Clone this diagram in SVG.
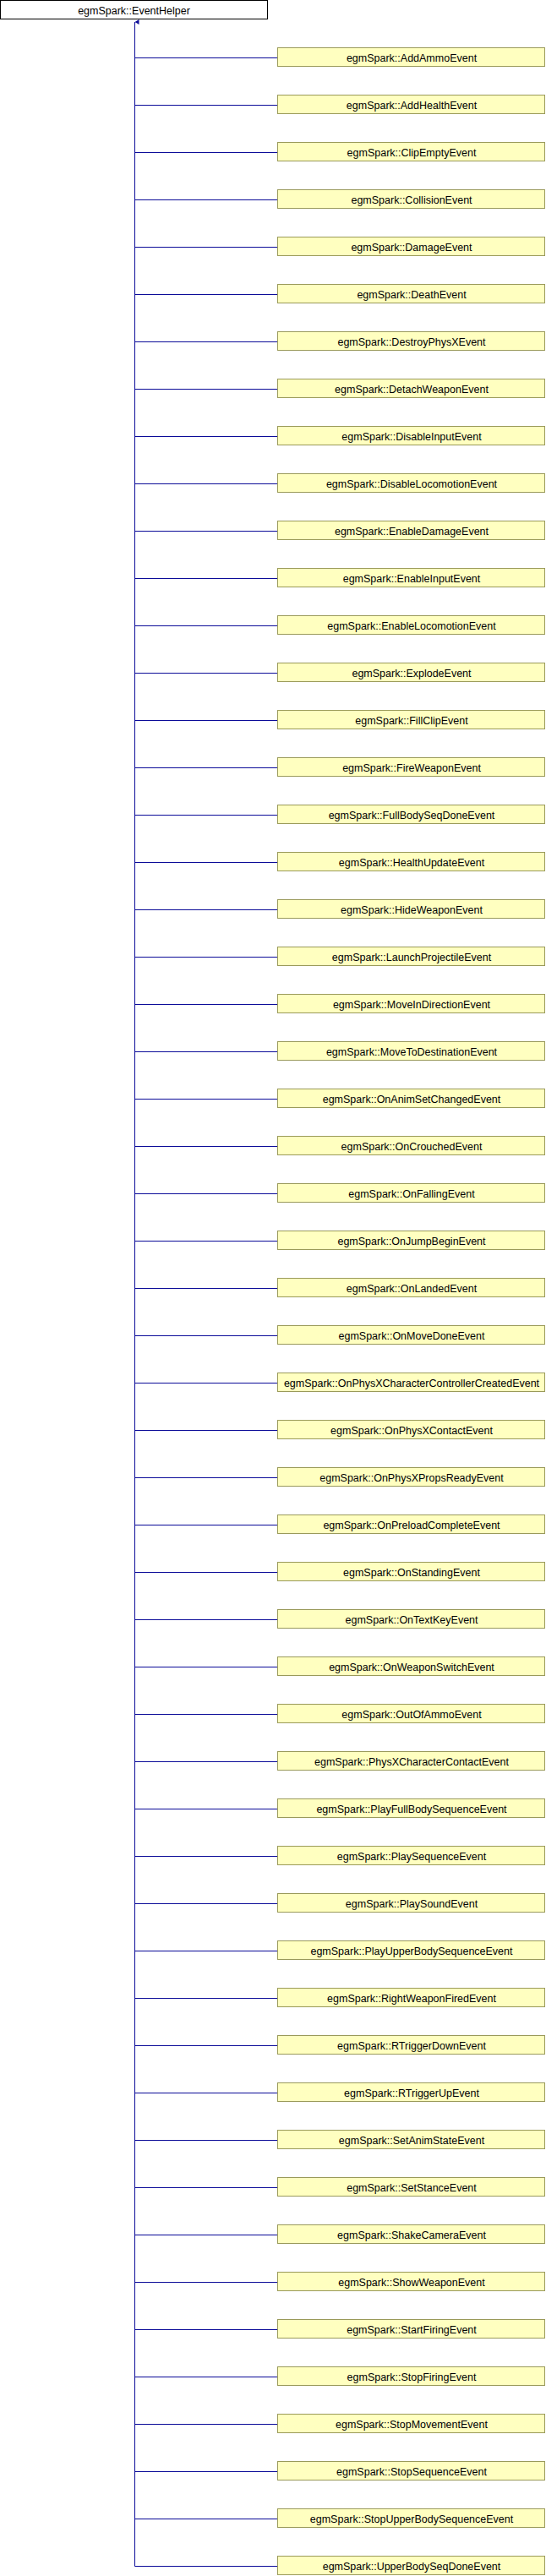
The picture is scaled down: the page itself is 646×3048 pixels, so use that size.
<svg xmlns="http://www.w3.org/2000/svg" width="646" height="3048" viewBox="0 0 646 3048">
<style>
.bg{fill:#ffffff}
.root rect{fill:#ffffff;stroke:#000000;stroke-width:1}
.n rect{fill:#ffffc0;stroke:#9a9a5a;stroke-width:1}
text{font-family:"Liberation Sans",Arial,sans-serif;font-size:12.5px;fill:#000000;text-anchor:middle}
.e{stroke:#0b0b98;stroke-width:1;fill:none}
</style>
<defs>
<marker id="ah" markerWidth="6" markerHeight="6" refX="3" refY="0" orient="auto" markerUnits="userSpaceOnUse" viewBox="0 0 6 6">
<path d="M0,5 L3,0 L6,5 Z" fill="#0b0b98"/>
</marker>
</defs>
<rect class="bg" x="0" y="0" width="646" height="3048"/>
<g id="connectors">
<path class="e" d="M159.5,3036.5 V26" marker-end="url(#ah)"/>
<path class="e" d="M159.5,68.5 H328 M159.5,124.5 H328 M159.5,180.5 H328 M159.5,236.5 H328 M159.5,292.5 H328 M159.5,348.5 H328 M159.5,404.5 H328 M159.5,460.5 H328 M159.5,516.5 H328 M159.5,572.5 H328 M159.5,628.5 H328 M159.5,684.5 H328 M159.5,740.5 H328 M159.5,796.5 H328 M159.5,852.5 H328 M159.5,908.5 H328 M159.5,964.5 H328 M159.5,1020.5 H328 M159.5,1076.5 H328 M159.5,1132.5 H328 M159.5,1188.5 H328 M159.5,1244.5 H328 M159.5,1300.5 H328 M159.5,1356.5 H328 M159.5,1412.5 H328 M159.5,1468.5 H328 M159.5,1524.5 H328 M159.5,1580.5 H328 M159.5,1636.5 H328 M159.5,1692.5 H328 M159.5,1748.5 H328 M159.5,1804.5 H328 M159.5,1860.5 H328 M159.5,1916.5 H328 M159.5,1972.5 H328 M159.5,2028.5 H328 M159.5,2084.5 H328 M159.5,2140.5 H328 M159.5,2196.5 H328 M159.5,2252.5 H328 M159.5,2308.5 H328 M159.5,2364.5 H328 M159.5,2420.5 H328 M159.5,2476.5 H328 M159.5,2532.5 H328 M159.5,2588.5 H328 M159.5,2644.5 H328 M159.5,2700.5 H328 M159.5,2756.5 H328 M159.5,2812.5 H328 M159.5,2868.5 H328 M159.5,2924.5 H328 M159.5,2980.5 H328 M159.5,3036.5 H328"/>
</g>
<g id="root" class="root"><rect x="0.5" y="0.5" width="316" height="22"/><text x="158.5" y="16.5">egmSpark::EventHelper</text></g>
<g id="n1" class="n"><rect x="328.5" y="56.5" width="316" height="22"/><text x="487" y="72.5">egmSpark::AddAmmoEvent</text></g>
<g id="n2" class="n"><rect x="328.5" y="112.5" width="316" height="22"/><text x="487" y="128.5">egmSpark::AddHealthEvent</text></g>
<g id="n3" class="n"><rect x="328.5" y="168.5" width="316" height="22"/><text x="487" y="184.5">egmSpark::ClipEmptyEvent</text></g>
<g id="n4" class="n"><rect x="328.5" y="224.5" width="316" height="22"/><text x="487" y="240.5">egmSpark::CollisionEvent</text></g>
<g id="n5" class="n"><rect x="328.5" y="280.5" width="316" height="22"/><text x="487" y="296.5">egmSpark::DamageEvent</text></g>
<g id="n6" class="n"><rect x="328.5" y="336.5" width="316" height="22"/><text x="487" y="352.5">egmSpark::DeathEvent</text></g>
<g id="n7" class="n"><rect x="328.5" y="392.5" width="316" height="22"/><text x="487" y="408.5">egmSpark::DestroyPhysXEvent</text></g>
<g id="n8" class="n"><rect x="328.5" y="448.5" width="316" height="22"/><text x="487" y="464.5">egmSpark::DetachWeaponEvent</text></g>
<g id="n9" class="n"><rect x="328.5" y="504.5" width="316" height="22"/><text x="487" y="520.5">egmSpark::DisableInputEvent</text></g>
<g id="n10" class="n"><rect x="328.5" y="560.5" width="316" height="22"/><text x="487" y="576.5">egmSpark::DisableLocomotionEvent</text></g>
<g id="n11" class="n"><rect x="328.5" y="616.5" width="316" height="22"/><text x="487" y="632.5">egmSpark::EnableDamageEvent</text></g>
<g id="n12" class="n"><rect x="328.5" y="672.5" width="316" height="22"/><text x="487" y="688.5">egmSpark::EnableInputEvent</text></g>
<g id="n13" class="n"><rect x="328.5" y="728.5" width="316" height="22"/><text x="487" y="744.5">egmSpark::EnableLocomotionEvent</text></g>
<g id="n14" class="n"><rect x="328.5" y="784.5" width="316" height="22"/><text x="487" y="800.5">egmSpark::ExplodeEvent</text></g>
<g id="n15" class="n"><rect x="328.5" y="840.5" width="316" height="22"/><text x="487" y="856.5">egmSpark::FillClipEvent</text></g>
<g id="n16" class="n"><rect x="328.5" y="896.5" width="316" height="22"/><text x="487" y="912.5">egmSpark::FireWeaponEvent</text></g>
<g id="n17" class="n"><rect x="328.5" y="952.5" width="316" height="22"/><text x="487" y="968.5">egmSpark::FullBodySeqDoneEvent</text></g>
<g id="n18" class="n"><rect x="328.5" y="1008.5" width="316" height="22"/><text x="487" y="1024.5">egmSpark::HealthUpdateEvent</text></g>
<g id="n19" class="n"><rect x="328.5" y="1064.5" width="316" height="22"/><text x="487" y="1080.5">egmSpark::HideWeaponEvent</text></g>
<g id="n20" class="n"><rect x="328.5" y="1120.5" width="316" height="22"/><text x="487" y="1136.5">egmSpark::LaunchProjectileEvent</text></g>
<g id="n21" class="n"><rect x="328.5" y="1176.5" width="316" height="22"/><text x="487" y="1192.5">egmSpark::MoveInDirectionEvent</text></g>
<g id="n22" class="n"><rect x="328.5" y="1232.5" width="316" height="22"/><text x="487" y="1248.5">egmSpark::MoveToDestinationEvent</text></g>
<g id="n23" class="n"><rect x="328.5" y="1288.5" width="316" height="22"/><text x="487" y="1304.5">egmSpark::OnAnimSetChangedEvent</text></g>
<g id="n24" class="n"><rect x="328.5" y="1344.5" width="316" height="22"/><text x="487" y="1360.5">egmSpark::OnCrouchedEvent</text></g>
<g id="n25" class="n"><rect x="328.5" y="1400.5" width="316" height="22"/><text x="487" y="1416.5">egmSpark::OnFallingEvent</text></g>
<g id="n26" class="n"><rect x="328.5" y="1456.5" width="316" height="22"/><text x="487" y="1472.5">egmSpark::OnJumpBeginEvent</text></g>
<g id="n27" class="n"><rect x="328.5" y="1512.5" width="316" height="22"/><text x="487" y="1528.5">egmSpark::OnLandedEvent</text></g>
<g id="n28" class="n"><rect x="328.5" y="1568.5" width="316" height="22"/><text x="487" y="1584.5">egmSpark::OnMoveDoneEvent</text></g>
<g id="n29" class="n"><rect x="328.5" y="1624.5" width="316" height="22"/><text x="487" y="1640.5">egmSpark::OnPhysXCharacterControllerCreatedEvent</text></g>
<g id="n30" class="n"><rect x="328.5" y="1680.5" width="316" height="22"/><text x="487" y="1696.5">egmSpark::OnPhysXContactEvent</text></g>
<g id="n31" class="n"><rect x="328.5" y="1736.5" width="316" height="22"/><text x="487" y="1752.5">egmSpark::OnPhysXPropsReadyEvent</text></g>
<g id="n32" class="n"><rect x="328.5" y="1792.5" width="316" height="22"/><text x="487" y="1808.5">egmSpark::OnPreloadCompleteEvent</text></g>
<g id="n33" class="n"><rect x="328.5" y="1848.5" width="316" height="22"/><text x="487" y="1864.5">egmSpark::OnStandingEvent</text></g>
<g id="n34" class="n"><rect x="328.5" y="1904.5" width="316" height="22"/><text x="487" y="1920.5">egmSpark::OnTextKeyEvent</text></g>
<g id="n35" class="n"><rect x="328.5" y="1960.5" width="316" height="22"/><text x="487" y="1976.5">egmSpark::OnWeaponSwitchEvent</text></g>
<g id="n36" class="n"><rect x="328.5" y="2016.5" width="316" height="22"/><text x="487" y="2032.5">egmSpark::OutOfAmmoEvent</text></g>
<g id="n37" class="n"><rect x="328.5" y="2072.5" width="316" height="22"/><text x="487" y="2088.5">egmSpark::PhysXCharacterContactEvent</text></g>
<g id="n38" class="n"><rect x="328.5" y="2128.5" width="316" height="22"/><text x="487" y="2144.5">egmSpark::PlayFullBodySequenceEvent</text></g>
<g id="n39" class="n"><rect x="328.5" y="2184.5" width="316" height="22"/><text x="487" y="2200.5">egmSpark::PlaySequenceEvent</text></g>
<g id="n40" class="n"><rect x="328.5" y="2240.5" width="316" height="22"/><text x="487" y="2256.5">egmSpark::PlaySoundEvent</text></g>
<g id="n41" class="n"><rect x="328.5" y="2296.5" width="316" height="22"/><text x="487" y="2312.5">egmSpark::PlayUpperBodySequenceEvent</text></g>
<g id="n42" class="n"><rect x="328.5" y="2352.5" width="316" height="22"/><text x="487" y="2368.5">egmSpark::RightWeaponFiredEvent</text></g>
<g id="n43" class="n"><rect x="328.5" y="2408.5" width="316" height="22"/><text x="487" y="2424.5">egmSpark::RTriggerDownEvent</text></g>
<g id="n44" class="n"><rect x="328.5" y="2464.5" width="316" height="22"/><text x="487" y="2480.5">egmSpark::RTriggerUpEvent</text></g>
<g id="n45" class="n"><rect x="328.5" y="2520.5" width="316" height="22"/><text x="487" y="2536.5">egmSpark::SetAnimStateEvent</text></g>
<g id="n46" class="n"><rect x="328.5" y="2576.5" width="316" height="22"/><text x="487" y="2592.5">egmSpark::SetStanceEvent</text></g>
<g id="n47" class="n"><rect x="328.5" y="2632.5" width="316" height="22"/><text x="487" y="2648.5">egmSpark::ShakeCameraEvent</text></g>
<g id="n48" class="n"><rect x="328.5" y="2688.5" width="316" height="22"/><text x="487" y="2704.5">egmSpark::ShowWeaponEvent</text></g>
<g id="n49" class="n"><rect x="328.5" y="2744.5" width="316" height="22"/><text x="487" y="2760.5">egmSpark::StartFiringEvent</text></g>
<g id="n50" class="n"><rect x="328.5" y="2800.5" width="316" height="22"/><text x="487" y="2816.5">egmSpark::StopFiringEvent</text></g>
<g id="n51" class="n"><rect x="328.5" y="2856.5" width="316" height="22"/><text x="487" y="2872.5">egmSpark::StopMovementEvent</text></g>
<g id="n52" class="n"><rect x="328.5" y="2912.5" width="316" height="22"/><text x="487" y="2928.5">egmSpark::StopSequenceEvent</text></g>
<g id="n53" class="n"><rect x="328.5" y="2968.5" width="316" height="22"/><text x="487" y="2984.5">egmSpark::StopUpperBodySequenceEvent</text></g>
<g id="n54" class="n"><rect x="328.5" y="3024.5" width="316" height="22"/><text x="487" y="3040.5">egmSpark::UpperBodySeqDoneEvent</text></g>
</svg>
